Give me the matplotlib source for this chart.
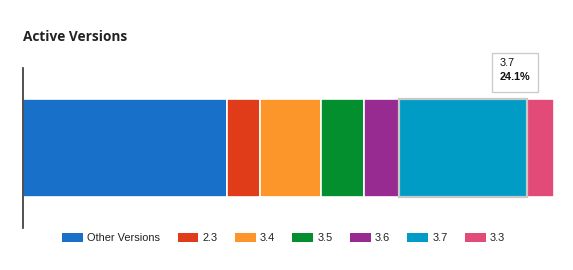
import matplotlib as mpl
mpl.use('Agg')
import matplotlib.pyplot as plt
from matplotlib.patches import Patch, FancyBboxPatch
import matplotlib.transforms as mtransforms

# data (share of active installs, %)
versions = ['Other Versions', '2.3', '3.4', '3.5', '3.6', '3.7', '3.3']
shares = [38.5, 6.2, 11.5, 8.0, 6.6, 24.1, 5.1]
colors = ['#1870c8', '#e03c19', '#fd962a', '#048f2e', '#982b92', '#009cc6', '#e24b77']
highlight = '3.7'

plt.rcParams['font.family'] = ['Liberation Sans', 'DejaVu Sans']

W, H = 573, 270
fig = plt.figure(figsize=(W/100.0, H/100.0), dpi=100)
ax = fig.add_axes([23.0/W, (H-228.0)/H, (554.0-23.0)/W, 160.0/H])

left = 0.0
for name, val, col in zip(versions, shares, colors):
    if name == highlight:
        ax.barh(0, val, left=left, height=0.6125, color=col,
                edgecolor='#c8c8c8', linewidth=1.6, zorder=3)
        hl_left, hl_val = left, val
    else:
        ax.barh(0, val, left=left, height=0.6125, color=col,
                edgecolor='white', linewidth=1.2, zorder=2)
    left += val

ax.set_xlim(0, sum(shares))
ax.set_ylim(-0.5, 0.5)
for s in ['top', 'right', 'bottom']:
    ax.spines[s].set_visible(False)
ax.spines['left'].set_color('#333333')
ax.spines['left'].set_linewidth(1.2)
ax.set_xticks([])
ax.set_yticks([])

# tooltip for the highlighted version
trans = mtransforms.blended_transform_factory(ax.transData, ax.transAxes)
bx = hl_left + hl_val * 0.73
box = FancyBboxPatch((bx, 0.85), 8.5, 0.245, boxstyle='square,pad=0',
                     transform=trans, facecolor='white', edgecolor='#cccccc',
                     linewidth=1.0, clip_on=False, zorder=5)
ax.add_patch(box)
ax.text(bx + 1.3, 1.03, highlight, transform=trans, fontsize=7.8,
        va='center', ha='left', color='#111111', zorder=6)
ax.text(bx + 1.3, 0.945, '{:.1f}%'.format(hl_val), transform=trans,
        fontsize=7.8, fontweight='bold', va='center', ha='left',
        color='#111111', zorder=6)

# title
fig.text(23.0/W, 1 - 37.0/H, 'Active Versions', fontsize=9.8,
         fontweight='bold', family=['Open Sans', 'DejaVu Sans'],
         color='#222222', va='center', ha='left')

# legend
handles = [Patch(facecolor=c, edgecolor='none') for c in colors]
fig.legend(handles, versions, loc='center left', ncol=len(versions),
           bbox_to_anchor=(58.0/W, 1 - 238.0/H), frameon=False,
           fontsize=7.9, handlelength=1.9, handleheight=1.0,
           handletextpad=0.35, columnspacing=1.6, borderaxespad=0,
           labelcolor='#222222')

fig.savefig('out.png', dpi=100)
